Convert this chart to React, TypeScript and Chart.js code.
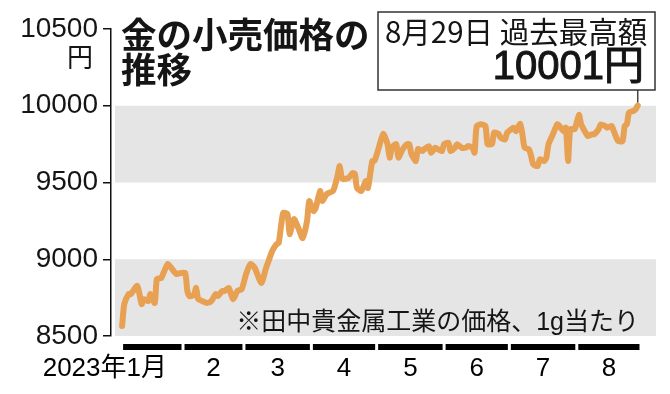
import { useEffect, useRef } from "react";
import { Chart, registerables } from "chart.js";

Chart.register(...registerables);

// Day of year (0 = 2023-01-01) of each trading day
const days = [
  3, 4, 6, 7, 10, 12, 13, 15, 16, 18,
  19, 21, 22, 24, 26, 28, 30, 32, 33, 34,
  36, 37, 38, 40, 42, 44, 46, 47, 49, 50,
  52, 54, 56, 58, 60, 62, 64, 67, 69, 70,
  72, 74, 75, 77, 79, 80, 82, 84, 86, 88,
  89, 91, 92, 94, 95, 97, 98, 100, 102, 103,
  104, 105, 107, 109, 110, 111, 113, 115, 116, 118,
  119, 121, 123, 125, 126, 127, 129, 130, 132, 134,
  135, 136, 138, 139, 141, 142, 144, 145, 147, 148,
  150, 151, 153, 154, 156, 157, 159, 161, 162, 164,
  165, 166, 168, 170, 171, 173, 174, 176, 177, 179,
  180, 183, 184, 186, 187, 188, 190, 191, 192, 194,
  195, 197, 198, 199, 201, 203, 204, 206, 207, 208,
  209, 211, 213, 214, 216, 217, 219, 220, 222, 223,
  225, 226, 228, 229, 231, 233, 234, 235, 236, 238,
  239, 240,
];

// Retail gold price, yen per gram
const prices = [
  8565, 8708, 8773, 8773, 8826, 8708, 8740, 8727, 8773, 8715,
  8871, 8878, 8910, 8969, 8936, 8904, 8910, 8910, 8793, 8760,
  8767, 8813, 8740, 8727, 8715, 8727, 8773, 8760, 8793, 8793,
  8813, 8740, 8793, 8806, 8904, 8969, 8943, 8845, 8936, 8975,
  9054, 9099, 9106, 9301, 9295, 9164, 9262, 9203, 9138, 9249,
  9379, 9314, 9334, 9445, 9379, 9425, 9432, 9445, 9542, 9607,
  9529, 9523, 9529, 9562, 9555, 9464, 9445, 9510, 9464, 9640,
  9640, 9727, 9818, 9750, 9662, 9727, 9750, 9662, 9718, 9750,
  9750, 9685, 9640, 9718, 9705, 9718, 9737, 9694, 9727, 9718,
  9705, 9750, 9759, 9705, 9727, 9750, 9727, 9727, 9737, 9727,
  9694, 9868, 9879, 9868, 9750, 9750, 9825, 9816, 9792, 9781,
  9825, 9857, 9835, 9883, 9814, 9727, 9716, 9673, 9618, 9607,
  9651, 9640, 9662, 9749, 9814, 9879, 9868, 9835, 9857, 9640,
  9847, 9847, 9940, 9879, 9825, 9803, 9814, 9814, 9847, 9879,
  9868, 9857, 9868, 9835, 9770, 9770, 9868, 9879, 9955, 9966,
  9977, 10001,
];

const yMin = 8500;
const yMax = 10500;
const yStep = 500;
const shadedBands = [
  [9500, 10000],
  [8500, 9000],
];

const monthLabels = ["2023年1月", "2", "3", "4", "5", "6", "7", "8"];
const monthStarts = [3, 31, 59, 90, 120, 151, 181, 212];
const monthEnds = [31, 59, 90, 120, 151, 181, 212, 241.5];

const titleLines = ["金の小売価格の", "推移"];
const unitText = "円";
const calloutLines = ["8月29日 過去最高額", "10001円"];
const noteText = "※田中貴金属工業の価格、1g当たり";

const LATIN = '"Liberation Sans", "Noto Sans CJK JP", sans-serif';
const CJK = '"Noto Sans CJK JP", "Liberation Sans", sans-serif';
const LINE_COLOR = "rgb(232,160,82)";
const BAND_COLOR = "#e5e5e5";
const INK = "#151515";

const decorPlugin = {
  id: "decor",
  beforeDatasetsDraw(chart: any) {
    const { ctx, chartArea, scales } = chart;
    const y = scales.y;
    ctx.save();
    ctx.fillStyle = BAND_COLOR;
    shadedBands.forEach(([lo, hi]) => {
      const y1 = y.getPixelForValue(hi);
      const y2 = y.getPixelForValue(lo);
      ctx.fillRect(chartArea.left + 4, y1, chartArea.right - chartArea.left - 4, y2 - y1);
    });
    ctx.restore();
  },
  afterDraw(chart: any) {
    const { ctx, scales } = chart;
    const x = scales.x;
    const y = scales.y;
    ctx.save();

    // title
    ctx.fillStyle = INK;
    ctx.textAlign = "left";
    ctx.textBaseline = "middle";
    ctx.font = `bold 35.5px ${CJK}`;
    ctx.fillText(titleLines[0], 121, 35);
    ctx.fillText(titleLines[1], 121, 70);

    // unit
    ctx.textAlign = "right";
    ctx.font = `26px ${CJK}`;
    ctx.fillText(unitText, 93, 57);

    // callout box
    const bx = 378, by = 12, bw = 277, bh = 78;
    ctx.fillStyle = "#ffffff";
    ctx.fillRect(bx, by, bw, bh);
    ctx.strokeStyle = "#333";
    ctx.lineWidth = 1.5;
    ctx.strokeRect(bx, by, bw, bh);
    ctx.fillStyle = INK;
    ctx.textAlign = "left";
    ctx.font = `29.5px ${CJK}`;
    ctx.fillText(calloutLines[0], 385, 32);
    ctx.textAlign = "right";
    ctx.font = `40px ${LATIN}`;
    ctx.strokeStyle = INK;
    ctx.lineWidth = 1;
    ctx.fillText(calloutLines[1], 644, 68);
    ctx.strokeText(calloutLines[1], 644, 68);

    // connector to last point
    const lastIdx = days.length - 1;
    const px = x.getPixelForValue(days[lastIdx]);
    const py = y.getPixelForValue(prices[lastIdx]);
    ctx.strokeStyle = "#444";
    ctx.lineWidth = 1.5;
    ctx.beginPath();
    ctx.moveTo(px, by + bh);
    ctx.lineTo(px, py - 3);
    ctx.stroke();

    // note
    ctx.fillStyle = INK;
    ctx.textAlign = "right";
    ctx.font = `25px ${LATIN}`;
    ctx.fillText(noteText, 639, 323);

    // month bars and labels
    ctx.fillStyle = "#000";
    monthStarts.forEach((s, i) => {
      const x1 = x.getPixelForValue(s) + (i === 0 ? 1 : 1.5);
      const x2 = x.getPixelForValue(monthEnds[i]) - 1.5;
      ctx.fillRect(x1, 344, x2 - x1, 6);
      ctx.font = `26px ${LATIN}`;
      if (i === 0) {
        ctx.textAlign = "right";
        ctx.fillText(monthLabels[i], 167, 369);
      } else {
        ctx.textAlign = "center";
        ctx.fillText(monthLabels[i], (x1 + x2) / 2, 369);
      }
    });

    ctx.restore();
  },
};

export default function App() {
  const canvasRef = useRef<HTMLCanvasElement | null>(null);

  useEffect(() => {
    document.body.style.margin = "0";
    const canvas = canvasRef.current;
    if (!canvas) return;
    const chart = new Chart(canvas, {
      type: "line",
      data: {
        datasets: [
          {
            data: days.map((d, i) => ({ x: d, y: prices[i] })),
            borderColor: LINE_COLOR,
            borderWidth: 6,
            pointRadius: 0,
            tension: 0.2,
            borderJoinStyle: "round",
            borderCapStyle: "round",
            fill: false,
          },
        ],
      },
      options: {
        responsive: false,
        animation: false,
        layout: { padding: { top: 29, bottom: 58, right: 14, left: 0 } },
        plugins: { legend: { display: false }, tooltip: { enabled: false } },
        scales: {
          x: {
            type: "linear",
            display: false,
            min: -2.1,
            max: 248.4,
          },
          y: {
            min: yMin,
            max: yMax,
            afterFit(scale: any) {
              scale.width = 111;
            },
            ticks: {
              stepSize: yStep,
              padding: 5,
              color: INK,
              font: { family: LATIN, size: 28 },
              callback: (v: any) => String(v),
            },
            grid: {
              display: true,
              drawOnChartArea: false,
              drawTicks: true,
              tickLength: 8,
              color: "#111",
              lineWidth: 1.5,
            },
            border: { display: true, color: "#111", width: 1.5 },
          },
        },
      },
      plugins: [decorPlugin],
    });
    return () => chart.destroy();
  }, []);

  return (
    <div style={{ position: "absolute", left: 0, top: 0, width: 670, height: 394, background: "#fff" }}>
      <canvas ref={canvasRef} width={670} height={394} style={{ display: "block" }} />
    </div>
  );
}
